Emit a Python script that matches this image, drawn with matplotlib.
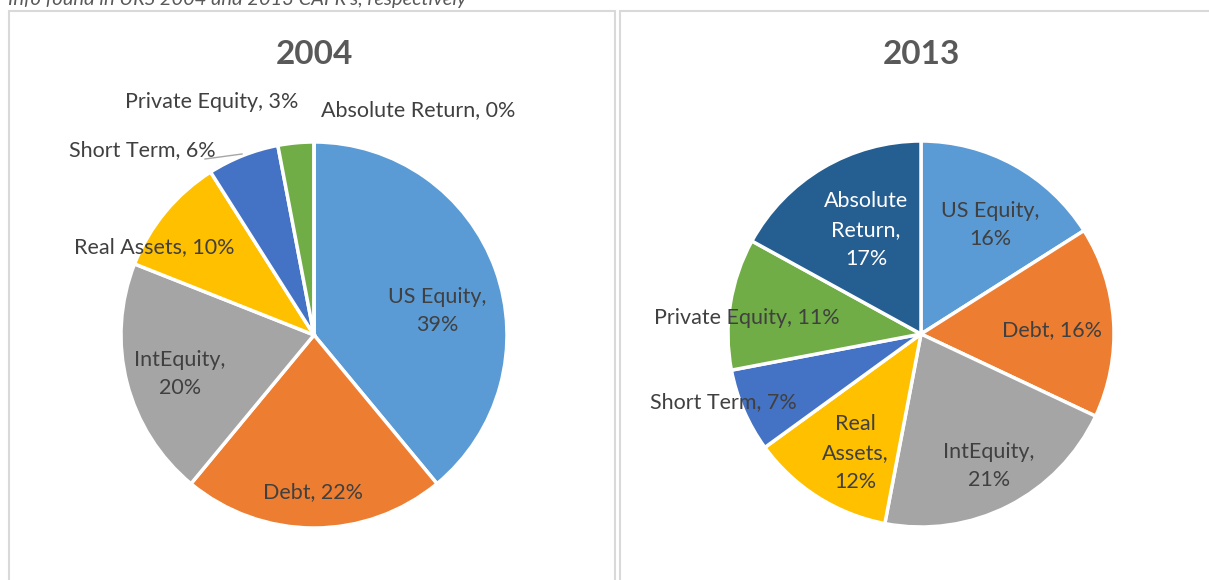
import matplotlib
matplotlib.use("Agg")
import matplotlib.pyplot as plt
from matplotlib.patches import Rectangle

plt.rcParams['font.family'] = ['Lato', 'DejaVu Sans']

categories = ["US Equity", "Debt", "IntEquity", "Real Assets", "Short Term",
              "Private Equity", "Absolute Return"]
values_2004 = [39, 22, 20, 10, 6, 3, 0]
values_2013 = [16, 16, 21, 12, 7, 11, 17]
colors = ["#5B9BD5", "#ED7D31", "#A5A5A5", "#FFC000", "#4472C4", "#70AD47", "#255E91"]
caption = "Info found in URS 2004 and 2013 CAFR's, respectively"

W, H = 1209, 580
fig = plt.figure(figsize=(W / 100, H / 100), dpi=100)
fig.patch.set_facecolor("white")

# panel borders
for x0, x1 in [(9, 615), (620, 1215)]:
    fig.add_artist(Rectangle((x0 / W, -0.05), (x1 - x0) / W, (H - 11) / H + 0.05,
                             transform=fig.transFigure, fill=False,
                             edgecolor="#D9D9D9", linewidth=1.5))

fig.text(8 / W, 1 - 0 / H, caption, ha="left", va="center", fontsize=14.5,
         style="italic", color="#595959")

R = 193
text_col = "#404040"

# label layout (pixel positions of label centres) per panel
layout_2004 = [
    ("US Equity,\n39%", 437, 311, text_col),
    ("Debt, 22%", 313, 492, text_col),
    ("IntEquity,\n20%", 180, 374, text_col),
    ("Real Assets, 10%", 154, 247, text_col),
    ("Short Term, 6%", 142, 150, text_col),
    ("Private Equity, 3%", 212, 102, text_col),
    ("Absolute Return, 0%", 418, 110, text_col),
]
layout_2013 = [
    ("US Equity,\n16%", 990, 225, text_col),
    ("Debt, 16%", 1052, 330, text_col),
    ("IntEquity,\n21%", 989, 466, text_col),
    ("Real\nAssets,\n12%", 855, 453, text_col),
    ("Short Term, 7%", 723, 402, text_col),
    ("Private Equity, 11%", 747, 318, text_col),
    ("Absolute\nReturn,\n17%", 866, 230, "white"),
]


def draw(values, cx, cy, title, layout, leader=None):
    ax = fig.add_axes([(cx - R) / W, (H - cy - R) / H, 2 * R / W, 2 * R / H])
    ax.pie(values, colors=colors, startangle=90, counterclock=False, radius=1,
           wedgeprops=dict(edgecolor="white", linewidth=2.5))
    ax.set_xlim(-1, 1)
    ax.set_ylim(-1, 1)
    ax.set_aspect("equal")
    ax.axis("off")
    for txt, px, py, col in layout:
        ax.text((px - cx) / R, (cy - py) / R, txt, ha="center", va="center",
                fontsize=15.5, color=col, linespacing=1.55, clip_on=False)
    if leader is not None:
        (x0, y0), (x1, y1) = leader
        ax.plot([(x0 - cx) / R, (x1 - cx) / R], [(cy - y0) / R, (cy - y1) / R],
                color="#A6A6A6", linewidth=1, clip_on=False)
    fig.text(cx / W, 1 - 55 / H, title, ha="center", va="center", fontsize=24,
             fontweight="bold", color="#595959")


draw(values_2004, 314, 335, "2004", layout_2004, leader=((205, 159), (242, 154)))
draw(values_2013, 921, 334, "2013", layout_2013)

fig.savefig("out.png", dpi=100, facecolor="white")
